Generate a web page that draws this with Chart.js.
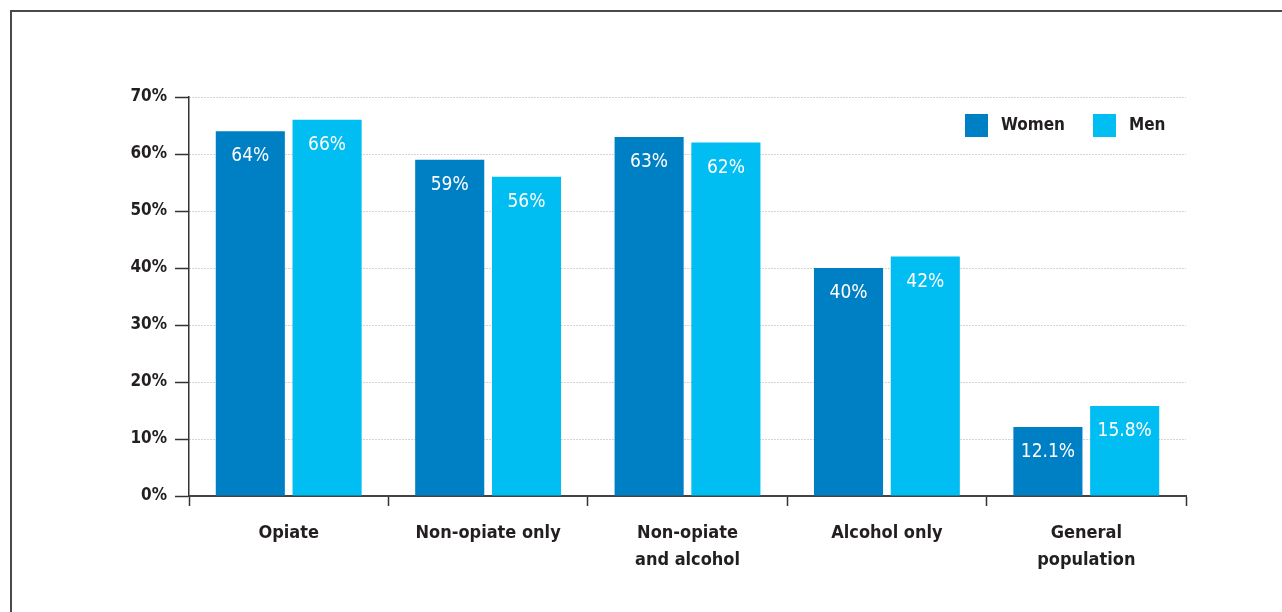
<!DOCTYPE html>
<html>
<head>
<meta charset="utf-8">
<script src="https://cdn.jsdelivr.net/npm/chart.js@4.4.1/dist/chart.umd.min.js"></script>
<style>
  html, body { margin: 0; padding: 0; background: #fff; overflow: hidden; }
  #frame { position: absolute; left: 10px; top: 10px; width: 1320px; height: 700px; border: 2px solid #4a4a4a; }
  #wrap { position: absolute; left: 0; top: 0; width: 1282px; height: 612px; }
</style>
</head>
<body>
<div id="frame"></div>
<div id="wrap"><canvas id="chart"></canvas></div>
<script>
const categories = ['Opiate', 'Non-opiate only', ['Non-opiate', 'and alcohol'], 'Alcohol only', ['General', 'population']];
const women = [64, 59, 63, 40, 12.1];
const men = [66, 56, 62, 42, 15.8];
const valueLabelsWomen = ['64%', '59%', '63%', '40%', '12.1%'];
const valueLabelsMen = ['66%', '56%', '62%', '42%', '15.8%'];
const seriesNames = ['Women', 'Men'];

const FONT = "'DejaVu Sans Condensed', 'Liberation Sans Narrow', sans-serif";
const INK = '#231f20';
const colWomen = '#0080c4';
const colMen = '#00bdf2';

// value labels inside the top of each bar
const barLabels = {
  id: 'barLabels',
  afterDatasetsDraw(chart) {
    const ctx = chart.ctx;
    ctx.save();
    ctx.fillStyle = '#fff';
    ctx.font = '19px ' + FONT;
    ctx.textAlign = 'center';
    ctx.textBaseline = 'middle';
    [valueLabelsWomen, valueLabelsMen].forEach((labels, i) => {
      chart.getDatasetMeta(i).data.forEach((bar, j) => {
        ctx.fillText(labels[j], bar.x, bar.y + 25);
      });
    });
    ctx.restore();
  }
};

// legend drawn at top right inside the plot
const boxLegend = {
  id: 'boxLegend',
  afterDraw(chart) {
    const ctx = chart.ctx;
    const area = chart.chartArea;
    ctx.save();
    ctx.font = 'bold 17px ' + FONT;
    ctx.textBaseline = 'middle';
    const items = [
      { text: seriesNames[0], color: colWomen, x: area.right - 221 },
      { text: seriesNames[1], color: colMen, x: area.right - 93 }
    ];
    const y = area.top + 17;
    items.forEach(it => {
      ctx.fillStyle = it.color;
      ctx.fillRect(it.x, y, 23, 23);
      ctx.fillStyle = INK;
      ctx.fillText(it.text, it.x + 36, y + 12);
    });
    ctx.restore();
  }
};

new Chart(document.getElementById('chart'), {
  type: 'bar',
  data: {
    labels: categories,
    datasets: [
      { label: seriesNames[0], data: women, backgroundColor: colWomen, categoryPercentage: 0.77, barPercentage: 0.9 },
      { label: seriesNames[1], data: men, backgroundColor: colMen, categoryPercentage: 0.77, barPercentage: 0.9 }
    ]
  },
  options: {
    responsive: true,
    maintainAspectRatio: false,
    animation: false,
    layout: { padding: { left: 0, top: 97, right: 96, bottom: 0 } },
    plugins: {
      legend: { display: false },
      tooltip: { enabled: false }
    },
    scales: {
      x: {
        afterFit(scale) { scale.height = 116; },
        grid: { offset: true, drawOnChartArea: false, tickLength: 10, tickColor: '#333', tickWidth: 1.5 },
        border: { color: '#444', width: 2 },
        ticks: { color: INK, padding: 14, font: { family: FONT, size: 18, weight: 'bold', lineHeight: 1.5 } }
      },
      y: {
        min: 0,
        max: 70,
        afterFit(scale) { scale.width = 189; },
        ticks: {
          stepSize: 10,
          color: INK,
          padding: 8,
          font: { family: FONT, size: 17, weight: 'bold' },
          callback: v => v + '%'
        },
        grid: {
          color: '#a8a8a8',
          lineWidth: 1,
          tickLength: 14,
          tickColor: '#333',
          tickWidth: 1.5,
          tickBorderDash: []
        },
        border: { color: '#333', width: 1.5, dash: [1, 2] }
      }
    }
  },
  plugins: [barLabels, boxLegend]
});
</script>
</body>
</html>
